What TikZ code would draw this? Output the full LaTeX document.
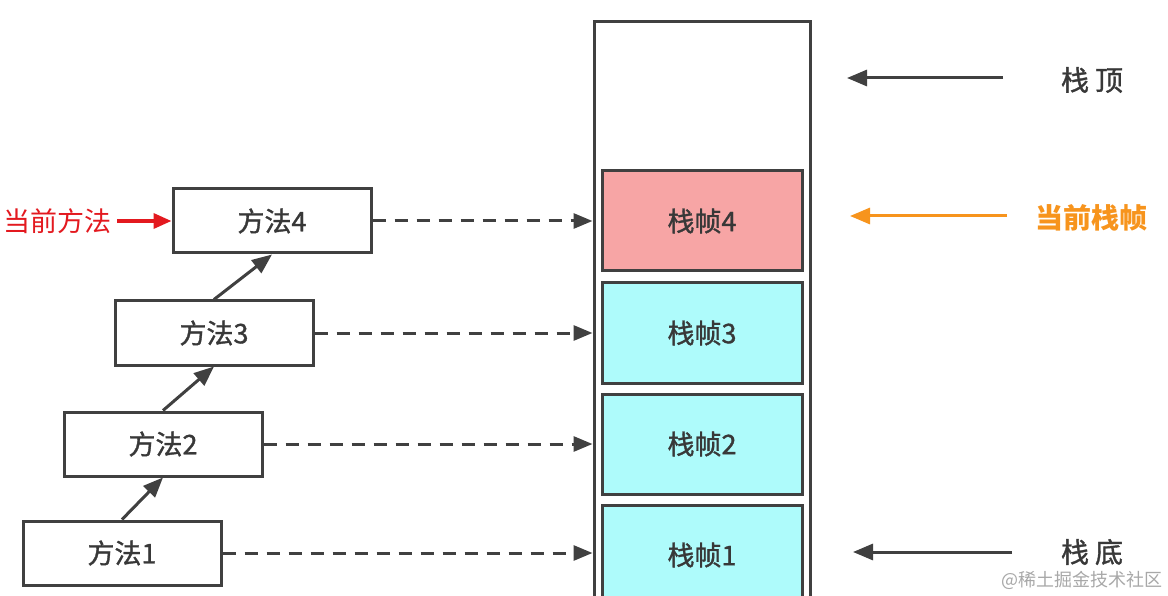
\documentclass[tikz,border=0pt]{standalone}
\usepackage{fontspec}
\setmainfont{Noto Sans CJK SC}
\newfontfamily\medf[FakeBold=1.2]{Noto Sans CJK SC}
\usetikzlibrary{arrows.meta}
\definecolor{ln}{HTML}{404040}
\definecolor{txt}{HTML}{383838}
\definecolor{pinkf}{HTML}{F7A5A5}
\definecolor{cyanf}{HTML}{AEFBFB}
\definecolor{redc}{HTML}{E3191F}
\definecolor{orangec}{HTML}{F7941D}
\definecolor{wm}{HTML}{A8A8A8}
\tikzset{
  methodbox/.style={draw=ln, line width=3pt, fill=white, minimum width=198pt, minimum height=64pt, inner sep=0pt, text=txt, font=\medf\fontsize{27}{30}\selectfont},
  framebox/.style={draw=ln, line width=3pt, minimum width=200pt, minimum height=100pt, inner sep=0pt, text=txt, font=\medf\fontsize{27}{30}\selectfont},
  stackbox/.style={draw=ln, line width=3pt, minimum width=216pt, minimum height=600pt, inner sep=0pt},
  solidarrow/.style={draw=ln, line width=3pt, -{Triangle[length=20pt,width=16pt]}},
  dasharrow/.style={draw=ln, line width=3pt, dash pattern=on 13pt off 9pt, -{Triangle[length=19pt,width=15pt]}},
  sidelabel/.style={text=txt, font=\medf\fontsize{28}{30}\selectfont, inner sep=0pt},
}
\begin{document}
\begin{tikzpicture}[x=1pt,y=-1pt]
\useasboundingbox (0,0) rectangle (1168,596);
\clip (0,0) rectangle (1168,596);
\fill[white] (0,0) rectangle (1168,596);

% stack
\node[stackbox] (stack) at (702,322) {};
\node[framebox, fill=pinkf] (f4) at (702,221) {栈帧4};
\node[framebox, fill=cyanf] (f3) at (702,333) {栈帧3};
\node[framebox, fill=cyanf] (f2) at (702,444) {栈帧2};
\node[framebox, fill=cyanf] (f1) at (702,555) {};
\node[text=txt, font=\medf\fontsize{27}{30}\selectfont, inner sep=0pt] (f1t) at (702,555) {栈帧1};

% methods
\node[methodbox] (m4) at (272,221) {方法4};
\node[methodbox] (m3) at (214,333) {方法3};
\node[methodbox] (m2) at (163,444) {方法2};
\node[methodbox] (m1) at (122,553) {方法1};

% method chain
\draw[solidarrow] (m1.north) -- (m2.south);
\draw[solidarrow] (m2.north) -- (m3.south);
\draw[solidarrow] (m3.north) -- (m4.south);

% dashed
\draw[dasharrow] (m4.east) -- (m4.east -| stack.west);
\draw[dasharrow] (m3.east) -- (m3.east -| stack.west);
\draw[dasharrow] (m2.east) -- (m2.east -| stack.west);
\draw[dasharrow] (m1.east) -- (m1.east -| stack.west);

% current method
\node[text=redc, font=\fontsize{27}{30}\selectfont, inner sep=0pt] (cm) at (58,221) {当前方法};
\draw[draw=redc, line width=3.5pt, -{Triangle[length=18pt,width=15pt]}] ([xshift=5pt]cm.east) -- (m4.west);

% right side labels
\node[sidelabel] (top) at (1092,80) {栈\hspace{6pt}顶};
\coordinate (topend) at (847,78);
\draw[solidarrow] (1003,78) -- (topend);

\node[sidelabel, text=orangec, font=\bfseries\fontsize{28}{30}\selectfont] (cur) at (1091,218) {当前栈帧};
\coordinate (curend) at (850,216);
\draw[draw=orangec, line width=3pt, -{Triangle[length=20pt,width=16pt]}] (1007,216) -- (curend);

\node[sidelabel] (bot) at (1092,552) {栈\hspace{6pt}底};
\coordinate (botend) at (853,552);
\draw[solidarrow] (1012,552) -- (botend);

% watermark
\node[text=wm, font=\fontsize{18}{20}\selectfont, inner sep=0pt] (wmk) at (1082,580) {@稀土掘金技术社区};
\end{tikzpicture}
\end{document}
